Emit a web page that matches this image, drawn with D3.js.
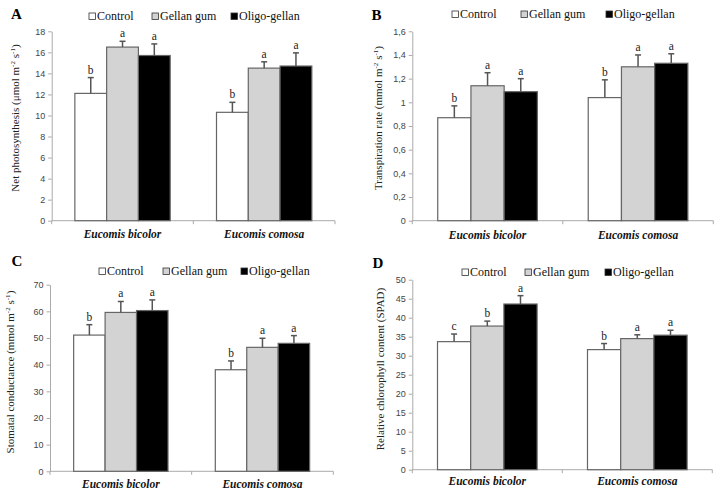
<!DOCTYPE html>
<html><head><meta charset="utf-8">
<script src="https://cdn.jsdelivr.net/npm/d3@7"></script>
<style>html,body{margin:0;padding:0;background:#fff;}svg{display:block;}</style>
</head><body>
<svg id="chart" width="720" height="496"></svg>
<script>
// ---------- data ----------
const categories = ["Eucomis bicolor", "Eucomis comosa"];
const treatments = ["Control", "Gellan gum", "Oligo-gellan"];

// A: Net photosynthesis  (rows = treatments, cols = categories)
const photoMeans   = [[12.1, 10.3], [16.5, 14.5], [15.7, 14.7]];
const photoErrors  = [[1.5, 0.95], [0.55, 0.6], [1.1, 1.25]];
const photoLetters = [["b", "b"], ["a", "a"], ["a", "a"]];
const photoTicks   = [0, 2, 4, 6, 8, 10, 12, 14, 16, 18];

// B: Transpiration rate
const transMeans   = [[0.87, 1.04], [1.14, 1.30], [1.09, 1.33]];
const transErrors  = [[0.10, 0.15], [0.11, 0.10], [0.11, 0.08]];
const transLetters = [["b", "b"], ["a", "a"], ["a", "a"]];
const transTicks   = [0, 0.2, 0.4, 0.6, 0.8, 1.0, 1.2, 1.4, 1.6];

// C: Stomatal conductance
const stomMeans    = [[51.1, 38.1], [59.6, 46.5], [60.3, 48.0]];
const stomErrors   = [[3.9, 3.3], [4.1, 3.4], [4.0, 2.9]];
const stomLetters  = [["b", "b"], ["a", "a"], ["a", "a"]];
const stomTicks    = [0, 10, 20, 30, 40, 50, 60, 70];

// D: Relative chlorophyll content
const chlMeans     = [[33.7, 31.6], [37.8, 34.5], [43.6, 35.4]];
const chlErrors    = [[2.0, 1.6], [1.3, 1.0], [2.2, 1.3]];
const chlLetters   = [["c", "b"], ["b", "a"], ["a", "a"]];
const chlTicks     = [0, 5, 10, 15, 20, 25, 30, 35, 40, 45, 50];

// ---------- styles ----------
const fills = ["#ffffff", "#d3d3d3", "#000000"];
const serif = "'Liberation Serif', 'DejaVu Serif', serif";
const sans = "'Liberation Sans', Arial, sans-serif";

const sup = (s) => ({t: s, sup: true});
const panels = [
  {label: "A", means: photoMeans, errs: photoErrors, letters: photoLetters, ticks: photoTicks,
   fmt: d => String(d),
   title: ["Net photosynthesis (μmol  m", sup("-2"), " s", sup("-1"), ")"],
   x0: 51.7, x1: 335, y0: 220.7, y1: 31.3, gf: 0.673,
   lab: [11, 19], leg: [89, 20, 152, 231], titleX: 19, titleY: 118, catY: 238},
  {label: "B", means: transMeans, errs: transErrors, letters: transLetters, ticks: transTicks,
   fmt: d => String(+d.toFixed(1)).replace(".", ","),
   title: ["Transpiration rate (mmol  m", sup("-2"), " s", sup("-1"), ")"],
   x0: 412.3, x1: 713.3, y0: 220.7, y1: 31.3, gf: 0.662,
   lab: [371.5, 20], leg: [452, 18, 521, 606], titleX: 382, titleY: 118, catY: 239},
  {label: "C", means: stomMeans, errs: stomErrors, letters: stomLetters, ticks: stomTicks,
   fmt: d => String(d),
   title: ["Stomatal conductance (mmol  m", sup("-2"), " s", sup("-1"), ")"],
   x0: 50, x1: 333.3, y0: 471.3, y1: 284.7, gf: 0.666,
   lab: [11.5, 265.5], leg: [99, 275, 163, 241], titleX: 14, titleY: 372, catY: 488},
  {label: "D", means: chlMeans, errs: chlErrors, letters: chlLetters, ticks: chlTicks,
   fmt: d => String(d),
   title: ["Relative chlorophyll content (SPAD)"],
   x0: 412.3, x1: 712.3, y0: 469.7, y1: 279.7, gf: 0.664,
   lab: [372.5, 268], leg: [462, 276, 525, 605], titleX: 384, titleY: 369, catY: 485}
];

const svg = d3.select("#chart");

panels.forEach(p => {
  const g = svg.append("g");
  const yMax = p.ticks[p.ticks.length - 1];
  const y = d3.scaleLinear().domain([0, yMax]).range([p.y0, p.y1]);
  const x = d3.scaleBand().domain(categories).range([p.x0, p.x1]).paddingInner(0).paddingOuter(0);
  const bw = x.bandwidth();
  const xs = d3.scaleBand().domain(treatments).range([bw * (1 - p.gf) / 2, bw * (1 + p.gf) / 2]);

  // y axis
  const yAxis = d3.axisLeft(y).tickValues(p.ticks).tickFormat(p.fmt).tickSizeInner(3.5).tickSizeOuter(0).tickPadding(3);
  const ya = g.append("g").attr("transform", `translate(${p.x0},0)`).call(yAxis);
  ya.select(".domain").attr("stroke", "#aaa").attr("stroke-width", 1);
  ya.selectAll(".tick line").attr("stroke", "#aaa");
  ya.selectAll(".tick text").attr("fill", "#444").style("font-family", sans).style("font-size", "9px");

  // x axis line + ticks
  const xa = g.append("g");
  xa.append("line").attr("x1", p.x0).attr("x2", p.x1).attr("y1", p.y0).attr("y2", p.y0)
    .attr("stroke", "#aaa").attr("stroke-width", 1);
  const edges = [p.x0].concat(categories.map(c => x(c) + bw));
  xa.selectAll("line.xt").data(edges).enter().append("line").attr("class", "xt")
    .attr("x1", d => d).attr("x2", d => d).attr("y1", p.y0).attr("y2", p.y0 + 3.5)
    .attr("stroke", "#aaa");

  // bars
  treatments.forEach((t, ti) => {
    categories.forEach((c, ci) => {
      const v = p.means[ti][ci], e = p.errs[ti][ci];
      const bx = x(c) + xs(t), w = xs.bandwidth(), cx = bx + w / 2;
      g.append("rect").attr("x", bx).attr("y", y(v)).attr("width", w).attr("height", y(0) - y(v))
        .attr("fill", fills[ti]).attr("stroke", "#666").attr("stroke-width", 1.2);
      g.append("line").attr("x1", cx).attr("x2", cx).attr("y1", y(v)).attr("y2", y(v + e))
        .attr("stroke", "#555").attr("stroke-width", 1.5);
      g.append("line").attr("x1", cx - 3).attr("x2", cx + 3).attr("y1", y(v + e)).attr("y2", y(v + e))
        .attr("stroke", "#555").attr("stroke-width", 1.5);
      g.append("text").attr("x", cx).attr("y", y(v + e) - 4).attr("text-anchor", "middle")
        .style("font-family", serif).style("font-size", "11.5px").attr("fill", "#222")
        .text(p.letters[ti][ci]);
    });
  });

  // category labels
  g.selectAll("text.cat").data(categories).enter().append("text").attr("class", "cat")
    .attr("x", d => x(d) + bw / 2).attr("y", p.catY).attr("text-anchor", "middle")
    .style("font-family", serif).style("font-size", "11.5px").style("font-style", "italic").style("font-weight", "bold")
    .attr("fill", "#111").text(d => d);

  // y title
  const tt = g.append("text").attr("transform", `translate(${p.titleX},${p.titleY}) rotate(-90)`)
    .attr("text-anchor", "middle").style("font-family", serif).style("font-size", "11px").attr("fill", "#222");
  p.title.forEach(part => {
    if (typeof part === "string") {
      tt.append("tspan").text(part).attr("dy", 0);
    } else {
      tt.append("tspan").text(part.t).style("font-size", "7px").attr("dy", -4);
      tt.append("tspan").text("\u200a").attr("dy", 4).style("font-size", "1px");
    }
  });

  // panel label
  g.append("text").attr("x", p.lab[0]).attr("y", p.lab[1]).style("font-family", serif)
    .style("font-size", "15px").style("font-weight", "bold").attr("fill", "#000").text(p.label);

  // legend
  const lx = [p.leg[0], p.leg[2], p.leg[3]];
  treatments.forEach((t, ti) => {
    g.append("rect").attr("x", lx[ti]).attr("y", p.leg[1] - 7).attr("width", 6.5).attr("height", 6.5)
      .attr("fill", fills[ti]).attr("stroke", "#333").attr("stroke-width", 0.8);
    g.append("text").attr("x", lx[ti] + 8).attr("y", p.leg[1]).style("font-family", serif)
      .style("font-size", "12px").attr("fill", "#111").text(t);
  });
});
</script>
</body></html>
